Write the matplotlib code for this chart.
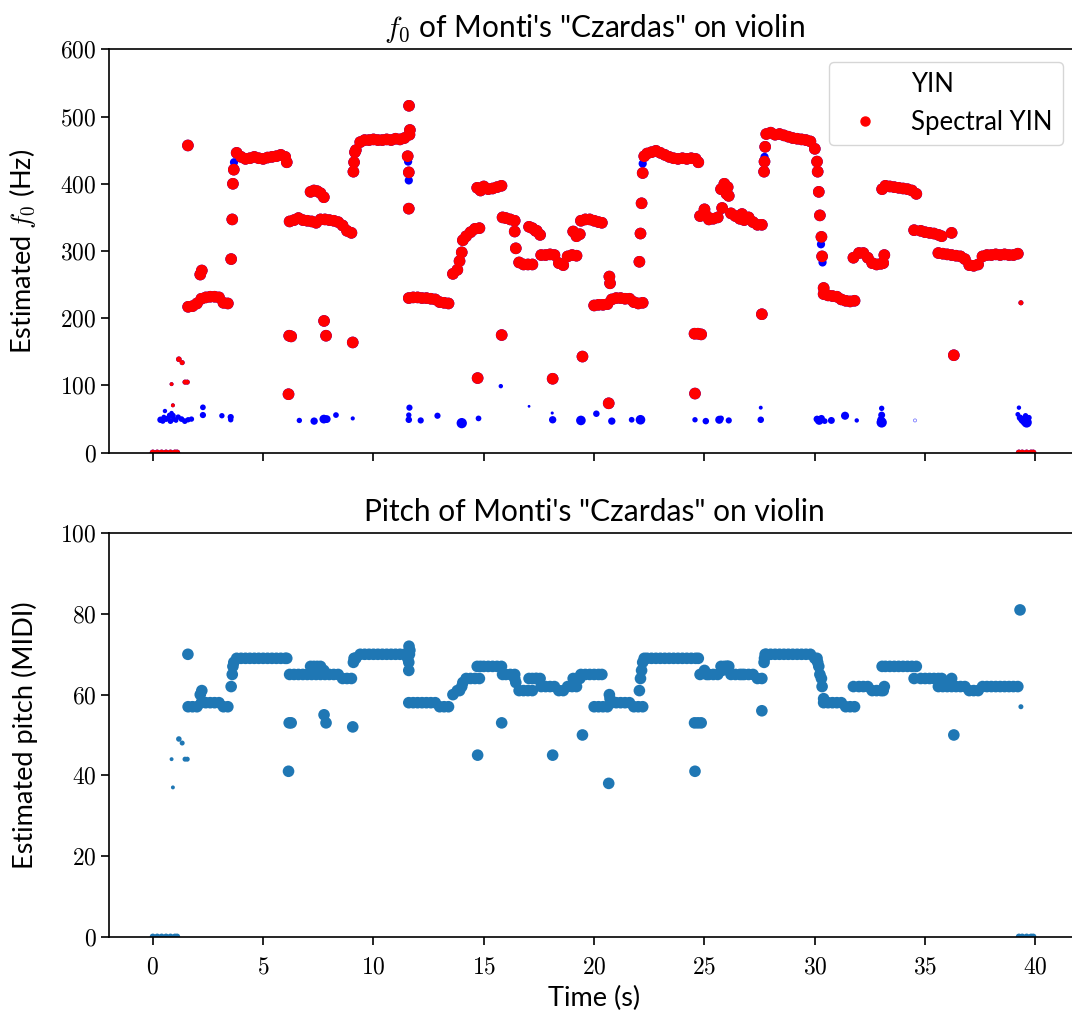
import numpy as np
import matplotlib

matplotlib.use("Agg")
import matplotlib.pyplot as plt
from matplotlib.lines import Line2D
from matplotlib.ticker import FuncFormatter

plt.rcParams["font.family"] = ["Lato", "DejaVu Sans"]
plt.rcParams["mathtext.fontset"] = "cm"

# frame times of the main f0 track (s)
frame_t = np.round(np.arange(200) * 0.2, 1)

# spectral YIN f0 on the frame grid (Hz); nan = no point
spec_f0 = [
    0, 0, 0, 0, 0, 0, np.nan, np.nan, 217, 218,
    222, 229, 231, 232, 232, 231, 223, 222, np.nan, 446,
    440, 437, 438, 440, 438, 437, 439, 440, 441, 443,
    440, 344, 346, 349, 346, 345, 344, 342, 347, 347,
    346, 345, 343, 338, 330, 327, 450, 462, 465, 465,
    466, 465, 465, 466, 465, 467, 466, 468, 230, 231,
    231, 230, 230, 229, 228, 224, 223, 222, 266, 272,
    298, 322, 328, 333, 334, 396, 392, 393, 395, 397,
    349, 347, 345, 283, 280, 280, 280, 330, 294, 294,
    295, 294, 282, 279, 292, 294, 293, 345, 347, 347,
    219, 220, 220, 221, 228, 230, 230, 229, 229, 224,
    222, 223, 445, 447, 449, 446, 443, 440, 438, 437,
    438, 437, 438, 437, 352, 362, 347, 348, 350, 364,
    385, 356, 352, 348, 346, 350, 343, 339, 339, 474,
    476, 473, 474, 472, 470, 468, 467, 466, 465, 463,
    452, np.nan, 236, 234, 233, 232, 228, 226, 225, 226,
    297, 297, 290, 282, 280, 281, 397, 396, 395, 394,
    393, 392, 390, 385, 330, 328, 327, 326, 297, 296,
    295, 294, 293, 292, 288, 279, 278, 280, 292, 294,
    294, 295, 294, 295, 294, 294, 296, 0, 0, 0,
]

# spectral YIN points off the grid (transitions, octave errors)
extra_t = [0.85, 0.91, 1.18, 1.33, 1.46, 1.56, 1.59, 2.15, 2.22,
           3.55, 3.6, 3.63, 3.67, 6.07, 6.15, 6.18, 6.27,
           7.15, 7.3, 7.45, 7.6, 7.75, 7.76, 7.85, 9.06,
           9.09, 9.12, 9.16, 11.55, 11.6, 11.6, 11.61, 11.65, 11.63,
           13.9, 14.05, 14.7, 14.85, 14.72, 15.81, 15.85, 16.4, 16.45,
           17.05, 17.2, 17.35, 17.55, 18.12, 19.05, 19.2, 19.35,
           20.0, 20.2, 20.35, 19.47, 20.69, 20.72, 20.66,
           22.05, 22.1, 22.15, 22.2, 22.27, 24.57, 24.55, 24.7, 24.85, 24.72,
           25.1, 25.75, 25.9, 26.05, 26.1, 26.7, 27.6, 27.7, 27.72, 27.75,
           30.1, 30.13, 30.18, 30.23, 30.3, 30.33, 30.4,
           31.75, 33.1, 33.15, 33.05, 34.5, 35.6, 35.75, 36.2, 36.3,
           39.34, 39.3, 1.1, 39.25, 39.9]
extra_f0 = [102, 70.5, 139, 134, 105, 105, 457, 265, 271,
            288, 347, 400, 421, 432, 87, 174, 173,
            388, 390, 389, 386, 380, 196, 174, 164,
            418, 432, 447, 441, 417, 363, 516, 480, 473,
            285, 316, 394, 390, 111, 175, 350, 329, 304,
            336, 334, 330, 324, 110, 329, 322, 325,
            345, 343, 342, 143, 262, 252, 73.5,
            284, 326, 371, 416, 441, 88, 177, 177, 176, 432,
            352, 392, 400, 395, 382, 355, 206, 418, 433, 455,
            433, 418, 388, 353, 321, 292, 245,
            290, 282, 294, 392, 331, 324, 322, 327, 145,
            223, 880, 0, 0, 0]
extra_size = [8, 8, 16, 13, 13, 13] + [70] * 88 + [13, 70, 20, 20, 20]

# YIN points that differ from spectral YIN (mostly low-frequency errors)
yin_t = [0.35, 0.45, 0.5, 0.55, 0.6, 0.7, 0.75, 0.8, 0.85, 0.9, 0.95, 1.05,
         1.15, 1.3, 1.45, 1.6, 1.75, 2.27, 2.27, 3.13, 3.53, 3.53, 6.64,
         7.31, 7.75, 7.88, 8.3, 9.06, 11.63, 11.6, 11.6, 12.14, 12.9, 14.0,
         14.76, 15.77, 17.05, 18.1, 18.12, 19.4, 20.1, 20.8, 21.7, 22.1,
         24.57, 25.06, 25.67, 25.75, 26.1, 27.55, 27.55, 30.1, 30.2, 30.3,
         30.45, 30.75, 31.37, 31.9, 33.03, 33.03, 33.03, 33.0, 39.2, 39.25,
         39.3, 39.4, 39.5, 39.6, 39.7, 39.55,
         3.68, 27.72, 30.35, 30.28, 11.57, 11.6, 22.2, 9.1]
yin_f0 = [49, 47, 53, 62, 50, 52, 56, 47, 59, 55, 50, 48,
          53, 50, 47, 49, 50, 67.5, 56, 55, 53, 49, 48,
          47, 50, 50, 56, 51, 67, 56, 49, 48, 55, 44,
          51, 99, 69, 59, 49, 48, 58, 47, 49, 49,
          49, 47, 49, 51, 48, 67, 49, 50, 48, 51,
          47, 48, 55, 48, 66, 56, 45, 49, 57, 67,
          52, 49, 47, 45, 52, 55,
          432, 440, 283, 310, 433, 405, 430, 432]
yin_size = [22, 15, 12, 10, 17, 15, 12, 17, 10, 20, 15, 12,
            15, 17, 17, 15, 15, 17, 20, 15, 20, 15, 15,
            28, 40, 32, 17, 9, 20, 15, 22, 20, 20, 55,
            17, 10, 4, 5, 28, 48, 22, 28, 17, 48,
            15, 22, 34, 17, 20, 8, 22, 25, 40, 25,
            17, 25, 34, 10, 15, 25, 55, 30, 12, 10,
            22, 30, 40, 55, 17, 15,
            35, 35, 35, 35, 35, 35, 35, 35]

# one hollow, almost invisible YIN point
faint_t = [34.54]
faint_f0 = [48]

y0_ticks = [0, 100, 200, 300, 400, 500, 600]
midi_ticks = [0, 20, 40, 60, 80, 100]
t_ticks = [0, 5, 10, 15, 20, 25, 30, 35, 40]


def to_midi(f0):
    f0 = np.asarray(f0, dtype=float)
    midi = np.full(f0.shape, np.nan)
    voiced = f0 > 0
    midi[voiced] = np.round(69 + 12 * np.log2(f0[voiced] / 440.0))
    midi[f0 == 0] = 0
    return midi


def main() -> None:
    grid_f0 = np.array(spec_f0, dtype=float)
    grid_size = np.where(grid_f0 > 0, 70, 20)
    all_t = np.concatenate([frame_t, extra_t])
    all_f0 = np.concatenate([grid_f0, extra_f0])
    all_size = np.concatenate([grid_size, extra_size])

    fig = plt.figure(figsize=(10.72, 10.21), dpi=100)
    ax1 = fig.add_axes([0.102, 0.5566, 0.9051, 0.3951])
    ax2 = fig.add_axes([0.102, 0.0826, 0.9051, 0.3951], sharex=ax1)

    # YIN underneath, spectral YIN on top
    ax1.scatter(all_t, all_f0, s=all_size, color="blue", linewidths=0)
    ax1.scatter(yin_t, yin_f0, s=yin_size, color="blue", linewidths=0)
    ax1.scatter(faint_t, faint_f0, s=5, facecolors="none", edgecolors="blue",
                linewidths=0.5, alpha=0.6)
    ax1.scatter(all_t, all_f0, s=all_size, color="red", linewidths=0)

    ax2.scatter(all_t, to_midi(all_f0), s=all_size, color="#1f77b4", linewidths=0)

    fmt = FuncFormatter(lambda v, p: f"${v:g}$")
    for ax in (ax1, ax2):
        for side in ax.spines.values():
            side.set_linewidth(1.2)
        ax.tick_params(direction="out", length=5.5, width=1.2, labelsize=17)
        ax.tick_params(axis="x", pad=9)
        ax.yaxis.set_major_formatter(fmt)
    ax2.xaxis.set_major_formatter(fmt)

    ax1.set_xlim(-1.97, 42.0)
    ax2.set_xticks(t_ticks)
    ax1.tick_params(labelbottom=False)

    ax1.set_ylim(0, 600)
    ax1.set_yticks(y0_ticks)
    ax2.set_ylim(0, 100)
    ax2.set_yticks(midi_ticks)

    ax1.set_title("$f_0$ of Monti's \"Czardas\" on violin", fontsize=21.5, pad=9)
    ax2.set_title("Pitch of Monti's \"Czardas\" on violin", fontsize=21.5, pad=9)
    ax1.set_ylabel("Estimated $f_0$ (Hz)", fontsize=19.5, labelpad=16)
    ax2.set_ylabel("Estimated pitch (MIDI)", fontsize=19.5, labelpad=16)
    ax2.set_xlabel("Time (s)", fontsize=19.5, labelpad=6)

    handles = [
        Line2D([], [], linestyle="none", marker="o", markersize=0, color="blue"),
        Line2D([], [], linestyle="none", marker="o", markersize=6.5, color="red"),
    ]
    ax1.legend(handles, ["YIN", "Spectral YIN"], loc="upper right",
               bbox_to_anchor=(0.983, 0.9685), borderaxespad=0, fontsize=18.5)

    fig.savefig("out.png", dpi=100)
    plt.close(fig)


if __name__ == "__main__":
    main()
